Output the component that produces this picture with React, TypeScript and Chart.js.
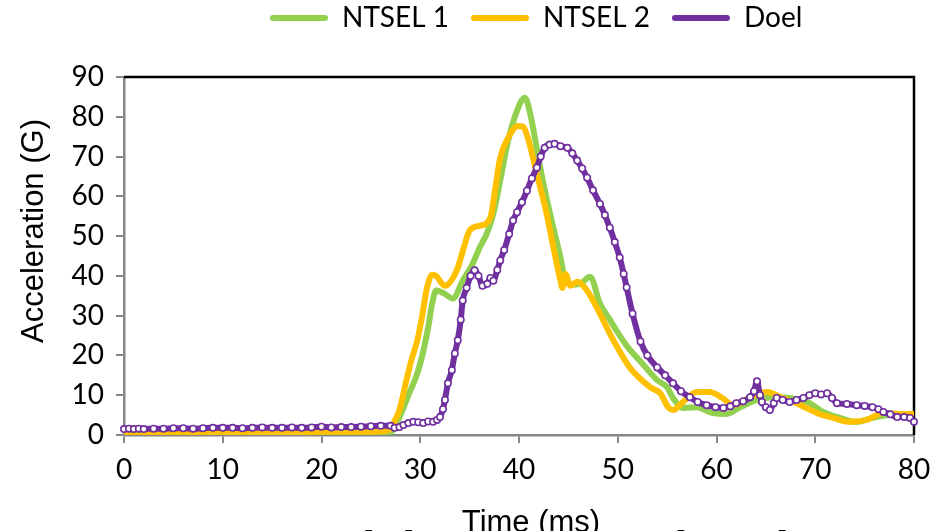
import React, { useEffect, useRef } from 'react';
import { Chart, registerables } from 'chart.js';

Chart.register(...registerables);

// ---------- data ----------
const seriesNames = ['NTSEL 1', 'NTSEL 2', 'Doel'];
const seriesColors = ['#92D050', '#FFC000', '#7030A0'];

const xTitle = 'Time (ms)';
const yTitle = 'Acceleration (G)';
const bgTitle = 'Nodal Head Acceleration';

const ntsel1T = [0, 5, 10, 15, 20, 25, 27, 27.9, 28.8, 29.7, 30.3, 30.8, 31.2, 31.6, 32.4, 33.3, 34.3, 35.2, 36, 36.8, 37.4, 38.1, 38.9, 39.8, 40.6, 41.2, 41.8, 42.4, 43.3, 44.2, 44.7, 45.5, 46.3, 47.2, 48.2, 49.2, 50.2, 51.2, 52.3, 54, 55, 55.6, 56.6, 58, 59.6, 61, 62.4, 64.1, 65.7, 67.4, 69.2, 70.8, 72.5, 74.2, 75.8, 77.6, 80];
const ntsel1V = [0.3, 0.3, 0.4, 0.4, 0.5, 0.6, 0.8, 4.5, 10, 15.5, 21, 27, 33, 36.3, 35.6, 34.3, 38.8, 42.5, 47, 51, 55.6, 64, 74, 81.5, 84.8, 80, 72, 64, 54, 44.6, 38.8, 37.8, 38.2, 39.8, 33, 29, 25, 21.5, 18.5, 13.8, 12, 9.3, 6.8, 7, 5.5, 5.3, 7, 8.8, 9.5, 9.3, 8.3, 5.8, 4.3, 3.3, 4.3, 5, 4.5];

const ntsel2T = [0, 5, 10, 15, 20, 25, 26.8, 27.4, 27.9, 28.6, 29.1, 29.7, 30.2, 30.6, 31.2, 31.6, 32.5, 33.7, 34.4, 35, 36, 37.1, 37.6, 38.1, 38.9, 39.9, 40.4, 40.8, 41.8, 42.8, 43.5, 44.2, 44.4, 44.7, 45.2, 45.9, 46.9, 47.5, 48.3, 49.2, 50.2, 51.2, 53.3, 54.3, 55.1, 55.6, 56.6, 58, 59.3, 60.6, 61.7, 63.4, 65.1, 66.7, 68.5, 70.2, 71.8, 73.5, 75.2, 76.9, 78.5, 80];
const ntsel2V = [0.3, 0.3, 0.5, 0.6, 0.8, 0.8, 1.2, 3.5, 6.3, 13.8, 18.8, 23.8, 30, 36, 40.3, 40, 37.5, 41.4, 47, 51.4, 52.6, 54.6, 62, 69.7, 74.7, 77.7, 77.5, 75.5, 65.7, 55.6, 47, 38.8, 37, 40.5, 37.5, 38.5, 36.3, 33.8, 30, 25.5, 21, 17, 12, 10.5, 7, 6.3, 8.3, 10.8, 10.8, 9.3, 7.5, 9.5, 10.8, 9.3, 7.5, 5.5, 4.3, 3.3, 3.8, 5.5, 5.3, 5.3];

const doelT = [0, 0.5, 1, 1.5, 2, 3, 4, 5, 6, 7, 8, 9, 10, 11, 12, 13, 14, 15, 16, 17, 18, 19, 20, 21, 22, 23, 24, 25, 26, 27, 27.4, 27.9, 28.3, 28.8, 29.3, 29.8, 30.3, 30.8, 31.3, 31.7, 32, 32.3, 32.5, 32.8, 33.2, 33.5, 33.8, 34.1, 34.3, 34.7, 35.1, 35.5, 35.9, 36.3, 36.8, 37.1, 37.4, 37.8, 38.1, 38.5, 39, 39.4, 39.8, 40.3, 40.8, 41.3, 41.8, 42.2, 42.6, 43.1, 43.6, 44.2, 44.9, 45.4, 45.9, 46.4, 46.9, 47.5, 48.2, 48.7, 49.2, 49.7, 50.2, 50.6, 50.9, 51.5, 52.3, 53, 54, 54.8, 55.6, 56.4, 57.3, 58.1, 59, 59.9, 60.7, 61.4, 62, 62.7, 63.4, 63.8, 64.1, 64.4, 64.6, 65, 65.4, 65.8, 66.1, 66.7, 67.4, 68.1, 68.8, 69.4, 70, 70.6, 71.2, 71.7, 72.2, 73.2, 74.2, 75, 75.8, 76.4, 76.9, 77.6, 78.3, 79, 79.6, 80];
const doelV = [1.5, 1.6, 1.5, 1.6, 1.5, 1.6, 1.6, 1.7, 1.7, 1.6, 1.7, 1.8, 1.8, 1.8, 1.7, 1.8, 1.9, 1.8, 1.8, 1.9, 1.8, 1.9, 2.1, 1.9, 2.0, 2.0, 2.1, 2.2, 2.3, 2.3, 1.8, 2.0, 2.5, 3.0, 3.3, 3.2, 3.0, 3.4, 3.3, 3.8, 4.5, 6.5, 8.8, 13, 16.3, 20.5, 23.8, 29, 33.8, 37, 40, 41.4, 40, 37.5, 38, 39.5, 38.8, 41.5, 43.9, 46.5, 50.5, 53.9, 56, 58.5, 61.4, 64.5, 67.2, 70, 72.2, 73, 73.2, 72.6, 72.2, 70.8, 69, 67, 64.7, 61.5, 58.1, 55.3, 52.1, 48.5, 44.6, 40.5, 37.1, 30.5, 23.5, 20, 17, 15, 13, 11, 9.5, 8.3, 7.5, 7, 6.8, 7.2, 8, 8.5, 9.5, 11, 13.5, 10, 8.3, 7, 6.3, 8, 9.3, 8.8, 8.3, 8.8, 9.3, 10, 10.5, 10.2, 10.5, 9.3, 8, 7.8, 7.5, 7.3, 7, 6.5, 5.8, 5.2, 4.5, 4.5, 4.3, 3.3];

const xMin = 0, xMax = 80, xStep = 10;
const yMin = 0, yMax = 90, yStep = 10;

// ---------- layout constants ----------
const W = 950, H = 531;
const PLOT_LEFT = 124, PLOT_RIGHT = 914, PLOT_TOP = 77, PLOT_BOTTOM = 435;
const LEGEND_START_X = 270;
const LEGEND_TOP = -18;

const toPoints = (t: number[], v: number[]) => t.map((x, i) => ({ x, y: v[i] }));

const legendPlace = {
  id: 'legendPlace',
  beforeInit(chart: any) {
    const lg = chart.legend;
    if (!lg) return;
    const orig = lg.fit;
    lg.fit = function () {
      orig.call(this);
      this.height = PLOT_TOP;
    };
  },
  afterLayout(chart: any) {
    const lg = chart.legend;
    if (!lg || !lg.lineWidths) return;
    const pad = lg.options.labels.padding;
    const start = (lg.left + pad + lg.right - lg.lineWidths[0]) / 2;
    const shift = LEGEND_START_X - start;
    lg.left += shift;
    lg.right += shift;
    const h = lg.bottom - lg.top;
    lg.top = LEGEND_TOP;
    lg.bottom = LEGEND_TOP + h;
  },
};

const frameAndTitles = {
  id: 'frameAndTitles',
  beforeDatasetsDraw(chart: any) {
    const { ctx, chartArea } = chart;
    ctx.save();
    ctx.strokeStyle = '#000';
    ctx.lineWidth = 2.5;
    ctx.beginPath();
    ctx.moveTo(chartArea.left, chartArea.top);
    ctx.lineTo(chartArea.right, chartArea.top);
    ctx.lineTo(chartArea.right, chartArea.bottom);
    ctx.stroke();
    ctx.restore();
  },
  afterDraw(chart: any) {
    const { ctx } = chart;
    ctx.save();
    // background (mostly cut off) big title
    ctx.fillStyle = '#000';
    ctx.font = 'bold 48px "Liberation Sans", Arial, sans-serif';
    ctx.textAlign = 'left';
    ctx.textBaseline = 'alphabetic';
    ctx.fillText(bgTitle, 282, 565);
    // x title with white box
    ctx.font = '31px "Liberation Sans", Arial, sans-serif';
    const tw = ctx.measureText(xTitle).width;
    ctx.fillStyle = '#fff';
    ctx.fillRect(531 - tw / 2 - 3, 503, tw + 6, 30);
    ctx.fillStyle = '#000';
    ctx.textAlign = 'center';
    ctx.fillText(xTitle, 531, 532);
    // y title
    ctx.translate(43, 231);
    ctx.rotate(-Math.PI / 2);
    ctx.fillText(yTitle, 0, 0);
    ctx.restore();
  },
};

export default function App() {
  const ref = useRef<HTMLCanvasElement | null>(null);

  useEffect(() => {
    if (!ref.current) return;
    const mk = (i: number, t: number[], v: number[], extra: any) => ({
      label: seriesNames[i],
      data: toPoints(t, v),
      borderColor: seriesColors[i],
      backgroundColor: seriesColors[i],
      borderWidth: 6,
      pointRadius: 0,
      tension: 0.35,
      cubicInterpolationMode: 'monotone',
      fill: false,
      ...extra,
    });
    const chart = new Chart(ref.current, {
      type: 'line',
      data: {
        datasets: [
          mk(0, ntsel1T, ntsel1V, { order: 2 }),
          mk(1, ntsel2T, ntsel2V, { order: 1 }),
          mk(2, doelT, doelV, {
            order: 0,
            borderWidth: 6,
            pointRadius: 3.2,
            pointBorderWidth: 1.6,
            pointBackgroundColor: '#ffffff',
            pointBorderColor: seriesColors[2],
            clip: false,
          }),
        ],
      },
      options: {
        animation: false,
        responsive: true,
        maintainAspectRatio: false,
        layout: { padding: { left: 0, right: W - PLOT_RIGHT, top: 0, bottom: 0 } },
        plugins: {
          tooltip: { enabled: false },
          legend: {
            display: true,
            position: 'top',
            labels: {
              boxWidth: 58,
              boxHeight: 6,
              padding: 22,
              color: '#000',
              font: { family: 'Lato', size: 28 },
              useBorderRadius: true,
              borderRadius: 3,
              generateLabels: (chart: any) => {
                const items = (Chart.defaults as any).plugins.legend.labels.generateLabels(chart);
                return items
                  .map((it: any) => ({
                    ...it,
                    text: seriesNames[it.datasetIndex],
                    fillStyle: seriesColors[it.datasetIndex],
                    strokeStyle: seriesColors[it.datasetIndex],
                    lineWidth: 0,
                    borderRadius: 3,
                  }))
                  .sort((a: any, b: any) => a.datasetIndex - b.datasetIndex);
              },
            },
          },
        },
        scales: {
          x: {
            type: 'linear',
            min: xMin,
            max: xMax,
            afterFit: (s: any) => { s.height = H - PLOT_BOTTOM; },
            ticks: { stepSize: xStep, color: '#000', font: { family: 'Lato', size: 28 }, padding: 10, maxRotation: 0 },
            grid: { drawOnChartArea: false, drawTicks: true, tickLength: 8, color: '#868686', lineWidth: 2 },
            border: { display: true, color: '#868686', width: 2.5 },
          },
          y: {
            type: 'linear',
            min: yMin,
            max: yMax,
            afterFit: (s: any) => { s.width = PLOT_LEFT; },
            ticks: { stepSize: yStep, color: '#000', font: { family: 'Lato', size: 28 }, padding: 12 },
            grid: { drawOnChartArea: false, drawTicks: true, tickLength: 8, color: '#868686', lineWidth: 2 },
            border: { display: true, color: '#868686', width: 2.5 },
          },
        },
      },
      plugins: [legendPlace, frameAndTitles],
    } as any);
    return () => chart.destroy();
  }, []);

  return (
    <div style={{ position: 'fixed', left: 0, top: 0, width: W, height: H, background: '#fff' }}>
      <canvas ref={ref} />
    </div>
  );
}
